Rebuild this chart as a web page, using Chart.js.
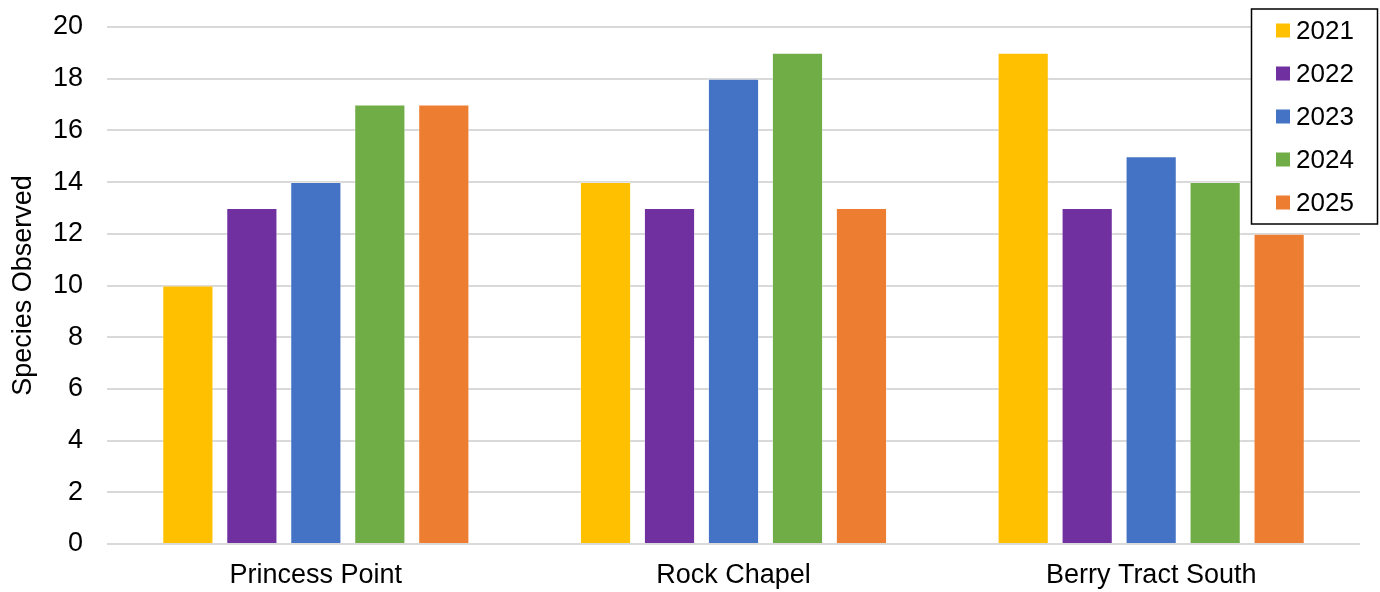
<!DOCTYPE html>
<html>
<head>
<meta charset="utf-8">
<script src="https://cdn.jsdelivr.net/npm/chart.js@4.4.1/dist/chart.umd.min.js"></script>
<style>
html,body{margin:0;padding:0;background:#fff;}
#wrap{width:1380px;height:592px;position:relative;}
</style>
</head>
<body>
<div id="wrap"><canvas id="c" width="1380" height="592"></canvas></div>
<script>
const categories = ["Princess Point", "Rock Chapel", "Berry Tract South"];
const seriesLabels = ["2021", "2022", "2023", "2024", "2025"];
const values2021 = [10, 14, 19];
const values2022 = [13, 13, 13];
const values2023 = [14, 18, 15];
const values2024 = [17, 19, 14];
const values2025 = [17, 13, 12];
const seriesColors = ["#FFC000", "#7030A0", "#4472C4", "#70AD47", "#ED7D31"];
const yTicks = [0, 2, 4, 6, 8, 10, 12, 14, 16, 18, 20];
const yTitle = "Species Observed";

const allValues = [values2021, values2022, values2023, values2024, values2025];
const FONT = "'Liberation Sans', Arial, sans-serif";

const boxLegend = {
  id: 'boxLegend',
  afterDraw(chart) {
    const ctx = chart.ctx;
    const W = chart.width;
    const left = W - 128.5, right = W - 2.5, top = 9, bottom = 224;
    ctx.save();
    ctx.fillStyle = '#fff';
    ctx.fillRect(left, top, right - left, bottom - top);
    ctx.lineWidth = 1.5;
    ctx.strokeStyle = '#000';
    ctx.strokeRect(left, top, right - left, bottom - top);
    ctx.font = "26px " + FONT;
    ctx.textBaseline = 'middle';
    ctx.textAlign = 'left';
    const rowH = (bottom - top) / chart.data.datasets.length;
    chart.data.datasets.forEach((ds, i) => {
      const cy = top + rowH * (i + 0.5);
      ctx.fillStyle = ds.backgroundColor;
      ctx.fillRect(left + 24.5, cy - 7, 14, 14);
      ctx.fillStyle = '#000';
      ctx.fillText(ds.label, left + 44.5, cy + 1);
    });
    ctx.restore();
  }
};

new Chart(document.getElementById('c'), {
  type: 'bar',
  data: {
    labels: categories,
    datasets: seriesLabels.map((lab, i) => ({
      label: lab,
      data: allValues[i],
      backgroundColor: seriesColors[i],
      borderColor: 'rgba(255,255,255,0.35)',
      borderWidth: 1,
      categoryPercentage: 0.766,
      barPercentage: 0.8
    }))
  },
  options: {
    responsive: false,
    animation: false,
    devicePixelRatio: 1,
    layout: { padding: { left: 0, right: 20, top: 27, bottom: 0 } },
    plugins: { legend: { display: false }, tooltip: { enabled: false } },
    scales: {
      x: {
        grid: { display: false, drawTicks: false },
        border: { display: false },
        ticks: { color: '#000', font: { family: FONT, size: 27 }, padding: 15 },
        afterFit(scale) { scale.height = 48; }
      },
      y: {
        min: 0, max: 20,
        afterBuildTicks(scale) { scale.ticks = yTicks.map(v => ({ value: v })); },
        grid: { color: '#d9d9d9', lineWidth: 2, drawTicks: false },
        border: { display: false },
        ticks: { color: '#000', font: { family: FONT, size: 27 }, padding: 24 },
        title: { display: true, text: yTitle, color: '#000', font: { family: FONT, size: 27 }, padding: { top: 7, bottom: 0 } },
        afterFit(scale) { scale.width = 107; scale.paddingTop = 0; scale.paddingBottom = 0; }
      }
    }
  },
  plugins: [boxLegend]
});
</script>
</body>
</html>
